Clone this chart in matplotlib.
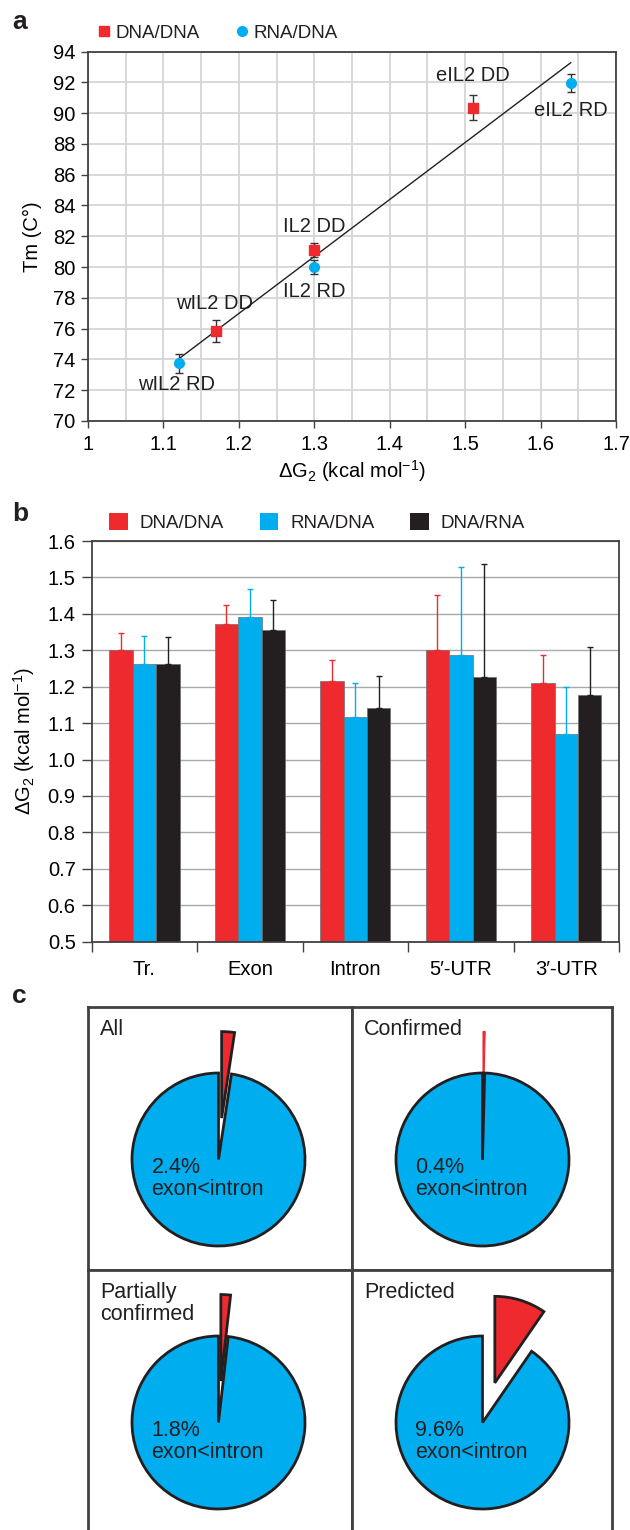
import matplotlib.pyplot as plt
import numpy as np
from matplotlib.patches import Patch

plt.rcParams['font.family'] = ['Liberation Sans', 'DejaVu Sans']
plt.rcParams['mathtext.fontset'] = 'custom'
plt.rcParams['mathtext.rm'] = 'Liberation Sans'
plt.rcParams['mathtext.it'] = 'Liberation Sans:italic'
plt.rcParams['mathtext.bf'] = 'Liberation Sans:bold'
plt.rcParams['text.color'] = '#231f20'

RED = '#ee2a2f'
CYAN = '#00aeef'
BLACK = '#231f20'
FRAME = '#414042'

# panel a: Tm against dG2 for the IL2 duplexes
dd_names = ['wIL2 DD', 'IL2 DD', 'eIL2 DD']
dd_dg = [1.17, 1.30, 1.51]
dd_tm = [75.85, 81.1, 90.35]
dd_err = [0.7, 0.45, 0.8]
rd_names = ['wIL2 RD', 'IL2 RD', 'eIL2 RD']
rd_dg = [1.12, 1.30, 1.64]
rd_tm = [73.75, 80.0, 91.95]
rd_err = [0.6, 0.45, 0.6]

# panel b: mean dG2 per region and hybrid type
regions = ['Tr.', 'Exon', 'Intron', '5\u2032-UTR', '3\u2032-UTR']
hybrids = ['DNA/DNA', 'RNA/DNA', 'DNA/RNA']
dg_dna_dna = [1.300, 1.372, 1.215, 1.300, 1.209]
dg_rna_dna = [1.263, 1.391, 1.116, 1.286, 1.071]
dg_dna_rna = [1.261, 1.355, 1.142, 1.227, 1.176]
err_dna_dna = [0.047, 0.052, 0.057, 0.153, 0.077]
err_rna_dna = [0.075, 0.078, 0.094, 0.243, 0.129]
err_dna_rna = [0.075, 0.084, 0.088, 0.309, 0.134]

# panel c: share of genes with exon<intron (%)
pie_titles = ['All', 'Confirmed', 'Partially\nconfirmed', 'Predicted']
exon_lt_intron = [2.4, 0.4, 1.8, 9.6]

W, H = 630, 1530
fig = plt.figure(figsize=(W / 100, H / 100), dpi=100)


def px_axes(x0, y0, x1, y1):
    return fig.add_axes([x0 / W, 1 - y1 / H, (x1 - x0) / W, (y1 - y0) / H])


def style_frame(ax, lw):
    for s in ax.spines.values():
        s.set_color(FRAME)
        s.set_linewidth(lw)


dg2_label = '\u0394G$_2$ (kcal mol$^{-1}$)'

# ---------------- a ----------------
ax = px_axes(88, 51.5, 616, 421)
ax.set_xlim(1, 1.7)
ax.set_ylim(70, 94)
xt = np.round(np.arange(1, 1.71, 0.1), 2)
ax.set_xticks(xt)
ax.set_xticklabels([f'{v:g}' for v in xt])
ax.set_xticks(np.arange(1.05, 1.7, 0.1), minor=True)
ax.set_yticks(np.arange(70, 95, 2))
ax.tick_params(which='major', labelsize=14.5, length=5, width=1, color=FRAME, pad=4)
ax.tick_params(axis='x', which='major', pad=5)
ax.tick_params(which='minor', length=0)
ax.grid(True, which='both', color='#d5d5d5', lw=1.3)
ax.set_axisbelow(True)
style_frame(ax, 1.3)

all_x = np.array(dd_dg + rd_dg)
all_y = np.array(dd_tm + rd_tm)
coef = np.polyfit(all_x, all_y, 1)
xs = np.array([all_x.min(), all_x.max()])
ax.plot(xs, np.polyval(coef, xs), color=BLACK, lw=1, zorder=2)

ax.errorbar(dd_dg, dd_tm, yerr=dd_err, fmt='none', ecolor='#333333',
            elinewidth=1, capsize=3, capthick=1, zorder=3)
ax.errorbar(rd_dg, rd_tm, yerr=rd_err, fmt='none', ecolor='#333333',
            elinewidth=1, capsize=3, capthick=1, zorder=3)
ax.plot(dd_dg, dd_tm, 's', color=RED, ms=7, mec=RED, label='DNA/DNA', zorder=4)
ax.plot(rd_dg, rd_tm, 'o', color=CYAN, ms=7, mec=CYAN, label='RNA/DNA', zorder=4)

dd_offsets = [(-1, 20), (0, 17), (0, 23)]
rd_offsets = [(-1.5, -15), (0, -17.5), (0, -19.5)]
for names, xv, yv, offs in [(dd_names, dd_dg, dd_tm, dd_offsets),
                            (rd_names, rd_dg, rd_tm, rd_offsets)]:
    for n, x, y, o in zip(names, xv, yv, offs):
        ax.annotate(n, (x, y), xytext=o, textcoords='offset points',
                    ha='center', va='center', fontsize=14.5)

ax.legend(loc='center left', bbox_to_anchor=(0.020, 1.05), ncol=2,
          frameon=False, fontsize=13.5, handlelength=0.6, handletextpad=0.3,
          columnspacing=1.95, borderaxespad=0, borderpad=0)
ax.set_ylabel('Tm (C\u00b0)', fontsize=14.5, labelpad=8)
ax.set_xlabel(dg2_label, fontsize=14.5, labelpad=3)

# ---------------- b ----------------
bx = px_axes(91.7, 541, 619, 941.7)
pos = np.arange(len(regions))
w = 0.222
series = [(dg_dna_dna, err_dna_dna, RED),
          (dg_rna_dna, err_rna_dna, CYAN),
          (dg_dna_rna, err_dna_rna, BLACK)]
for j, (vals, errs, col) in enumerate(series):
    bx.bar(pos + (j - 1) * w, vals, w, color=col, edgecolor='#6d6e71',
           linewidth=0.5, label=hybrids[j],
           yerr=[np.zeros(len(errs)), errs],
           error_kw=dict(ecolor=col, elinewidth=1, capsize=2.5, capthick=1))
bx.set_xlim(-0.5, len(regions) - 0.5)
bx.set_ylim(0.5, 1.6)
bx.set_yticks(np.arange(0.5, 1.61, 0.1))
bx.set_yticklabels([f'{v:.1f}' for v in np.arange(0.5, 1.61, 0.1)])
bx.set_xticks(pos)
bx.set_xticklabels(regions)
bx.set_xticks(np.arange(-0.5, len(regions), 1), minor=True)
bx.tick_params(axis='x', which='major', length=0, labelsize=14.5, pad=13)
bx.tick_params(axis='x', which='minor', length=7.5, width=1, color=FRAME)
bx.tick_params(axis='y', length=7.5, width=1, color=FRAME, labelsize=14.5, pad=4)
bx.yaxis.grid(True, color='#a7a9ac', lw=1)
bx.set_axisbelow(True)
style_frame(bx, 1.3)
bx.set_ylabel(dg2_label, fontsize=14.5, labelpad=8)
handles = [Patch(facecolor=c) for _, _, c in series]
bx.legend(handles, hybrids, loc='center left', bbox_to_anchor=(0.0336, 1.047),
          ncol=3, frameon=False, fontsize=13.5, handlelength=1.0,
          handleheight=1.0, handletextpad=0.62, columnspacing=1.9,
          borderaxespad=0, borderpad=0)

# ---------------- c ----------------
cells = [(88, 1007, 352, 1270), (352, 1007, 612, 1270),
         (88, 1270, 352, 1533), (352, 1270, 612, 1533)]
r_px = 86.5
cx_px, cy_px = 130.5, 152.5
for k, ((x0, y0, x1, y1), title, share) in enumerate(zip(cells, pie_titles, exon_lt_intron)):
    cax = px_axes(x0, y0, x1, y1)
    wedges, _ = cax.pie([share, 100 - share], colors=[RED, CYAN], startangle=90,
                        counterclock=False, explode=[0.48, 0], radius=1, frame=True,
                        wedgeprops=dict(edgecolor=BLACK, linewidth=2))
    if share < 1:
        wedges[0].set_edgecolor(RED)
        wedges[0].set_linewidth(0.8)
    cax.set_aspect('auto')
    cax.set_xlim(-cx_px / r_px, (x1 - x0 - cx_px) / r_px)
    cax.set_ylim(-(y1 - y0 - cy_px) / r_px, cy_px / r_px)
    cax.set_xticks([])
    cax.set_yticks([])
    style_frame(cax, 2)
    if k >= 2:
        cax.spines['bottom'].set_visible(False)
    cax.text(-0.775, -0.22, f'{share:.1f}%\nexon<intron', ha='left', va='center',
             fontsize=15.5, linespacing=1.1)
    cax.text(12 / (x1 - x0), 1 - 12 / (y1 - y0), title, transform=cax.transAxes,
             ha='left', va='top', fontsize=15.5, linespacing=1.05)

for letter, yb in [('a', 29), ('b', 521), ('c', 1003)]:
    fig.text(12 / W, 1 - yb / H, letter, fontsize=19, fontweight='bold',
             va='baseline', ha='left')

fig.savefig('out.png', dpi=100)
